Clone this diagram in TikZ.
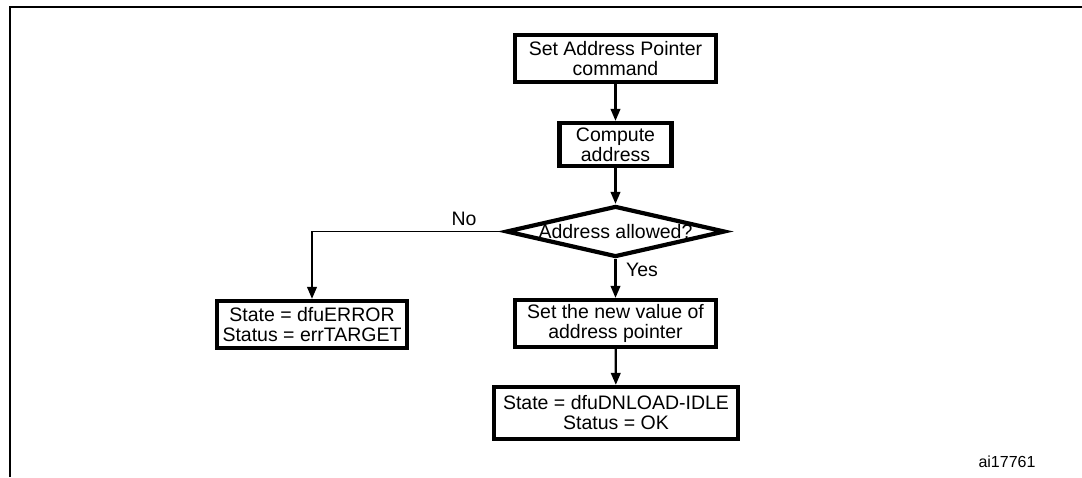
\documentclass[tikz,border=0pt]{standalone}
\usepackage{fontspec}
\setmainfont{Liberation Sans}
\usetikzlibrary{shapes.geometric,arrows.meta}
\begin{document}
\begin{tikzpicture}[x=1pt,y=-1pt,
  txt/.style={font=\fontsize{19.5}{20}\selectfont},
  box/.style={txt, draw, line width=4.2pt, align=center, inner sep=0pt},
  dia/.style={txt, draw, diamond, line width=4.2pt, inner sep=0pt, minimum width=219, minimum height=51},
  conn/.style={line width=2.2pt},
  arr/.style={conn, -{Triangle[length=12pt,width=9.5pt]}},
  thin/.style={line width=1.6pt},
  frame/.style={line width=2.3pt}]
\useasboundingbox (0,0) rectangle (1082,477);
\draw[frame] (10,477) -- (10,7) -- (1082,7);
\node[box, minimum width=201, minimum height=47] (A) at (615.5,58.5) {Set Address Pointer\\command};
\node[box, minimum width=112, minimum height=43] (B) at (615.5,144.5) {Compute\\address};
\node[dia] (C) at (615.5,231.5) {\makebox[0pt]{Address allowed?}};
\node[box, minimum width=190, minimum height=47] (D) at (312,324.5) {State = dfuERROR\\Status = errTARGET};
\node[box, minimum width=201, minimum height=47] (E) at (615.5,323.5) {Set the new value of\\address pointer};
\node[box, minimum width=244, minimum height=52] (F) at (616,413) {State = dfuDNLOAD-IDLE\\Status = OK};
\node[txt] (no) at (464,219) {No};
\node[txt] (yes) at (642,270) {Yes};
\node[txt, font=\fontsize{16}{17}\selectfont] (id) at (1007,462) {ai17761};
\coordinate (K) at (D.north |- C.west);
\draw[arr] (A) -- (B);
\draw[arr] (B) -- (C);
\draw[arr] (C) -- (E);
\draw[arr] (E) -- (F);
\draw[thin] (C.west) -- ([xshift=-1.1pt]K);
\draw[arr] ([yshift=-0.8pt]K) -- (D);
\end{tikzpicture}
\end{document}
